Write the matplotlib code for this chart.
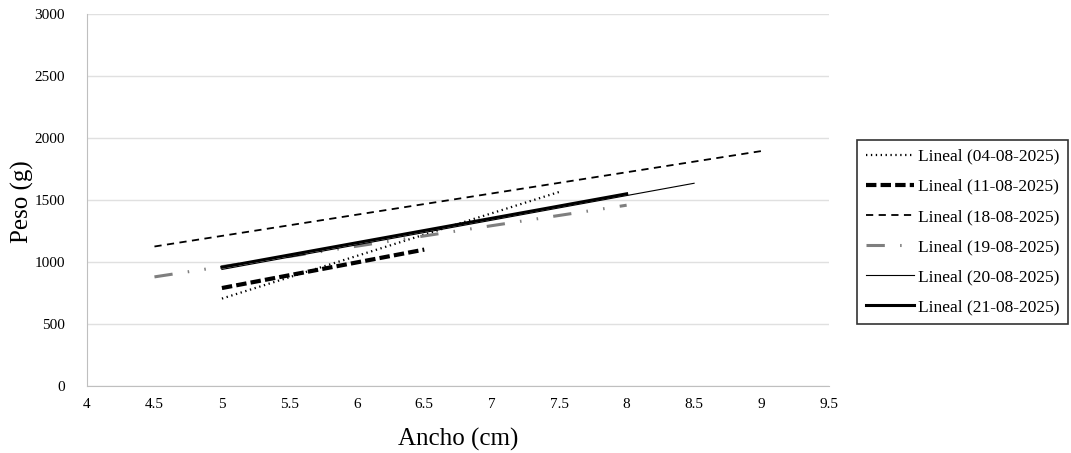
import matplotlib
matplotlib.use("Agg")
import matplotlib.pyplot as plt

# trend line end points: (x0, x1), (y0, y1)
labels = ["Lineal (04-08-2025)", "Lineal (11-08-2025)", "Lineal (18-08-2025)",
          "Lineal (19-08-2025)", "Lineal (20-08-2025)", "Lineal (21-08-2025)"]
x_ends = [(5, 7.5), (5, 6.5), (4.5, 9), (4.5, 8), (5, 8.5), (5, 8)]
y_ends = [(705, 1565), (790, 1100), (1125, 1895), (880, 1458), (940, 1635), (958, 1550)]

xticks = [4, 4.5, 5, 5.5, 6, 6.5, 7, 7.5, 8, 8.5, 9, 9.5]
yticks = [0, 500, 1000, 1500, 2000, 2500, 3000]

styles = [
    dict(color="black", lw=1.6, ls=(0, (0.6, 1.6))),
    dict(color="black", lw=3.0, ls=(0, (2.5, 1.0))),
    dict(color="black", lw=1.3, ls=(0, (4, 3))),
    dict(color="#7f7f7f", lw=2.2, ls=(0, (6, 5, 0.5, 5, 0.5, 5))),
    dict(color="black", lw=0.8, ls="-"),
    dict(color="black", lw=2.2, ls="-"),
]

plt.rcParams["font.family"] = ["Liberation Serif", "DejaVu Serif"]

fig = plt.figure(figsize=(10.71, 4.53), dpi=100)
ax = fig.add_axes([87 / 1071, 1 - 386 / 453, (829 - 87) / 1071, (386 - 14) / 453])

for lab, xs, ys, st in zip(labels, x_ends, y_ends, styles):
    ax.plot(xs, ys, label=lab, **st)

ax.set_xlim(4, 9.5)
ax.set_ylim(0, 3000)
ax.set_xticks(xticks)
ax.set_xticklabels([f"{v:g}" for v in xticks])
ax.set_yticks(yticks)
ax.tick_params(length=0, labelsize=11)
ax.tick_params(axis="x", pad=9)
ax.tick_params(axis="y", pad=16)
ax.yaxis.grid(True, color="#e0e0e0", lw=1)
ax.set_axisbelow(True)
for s in ["top", "right"]:
    ax.spines[s].set_visible(False)
for s in ["left", "bottom"]:
    ax.spines[s].set_color("#bfbfbf")

ax.set_xlabel("Ancho (cm)", fontsize=18, labelpad=12)
ax.set_ylabel("Peso (g)", fontsize=18)
ax.yaxis.set_label_coords(-0.072, 0.495)

leg = ax.legend(loc="upper left", bbox_to_anchor=(857 / 1071, 1 - 140 / 453),
                bbox_transform=fig.transFigure, frameon=True, fancybox=False,
                fontsize=12.5, handlelength=2.8, handletextpad=0.2,
                labelspacing=0.8, borderpad=0.5, borderaxespad=0)
leg.get_frame().set_edgecolor("black")
leg.get_frame().set_linewidth(1.2)

fig.savefig("out.png", dpi=100)
